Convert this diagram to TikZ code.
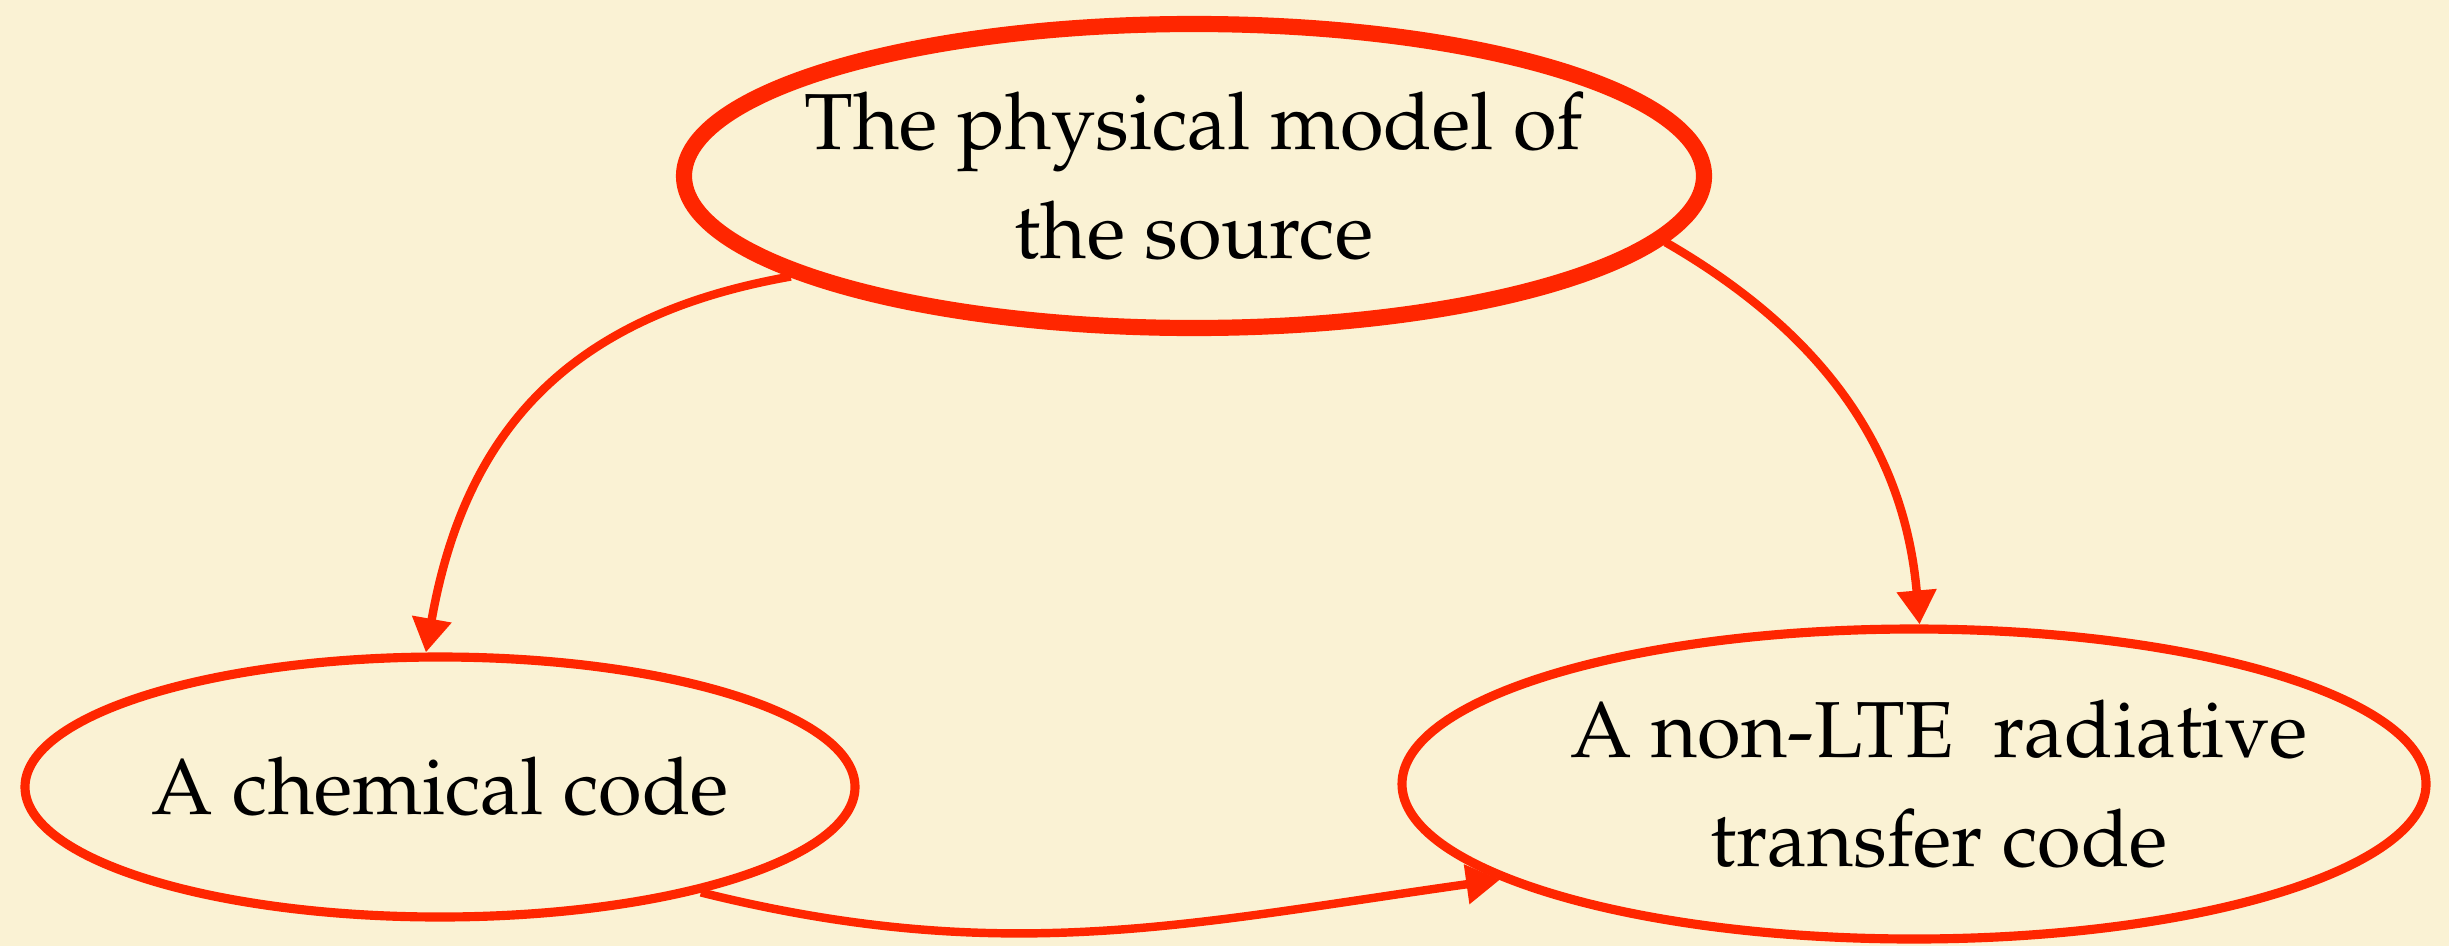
\documentclass[tikz,border=0pt]{standalone}
\usepackage[T1]{fontenc}
\usepackage{mathpazo}
\usetikzlibrary{shapes.geometric,arrows.meta}
\definecolor{Paper}{HTML}{FAF2D4}
\definecolor{Vermilion}{HTML}{FF2600}

\begin{document}
\begin{tikzpicture}
    \fill[Paper] (0,0) rectangle (24.49,9.46);
    \useasboundingbox (0,0) rectangle (24.49,9.46);
    \tikzset{
      bubble/.style={ellipse,draw=Vermilion,line width=2.6pt,inner ysep=0pt,inner xsep=-0.8cm,
        align=center,font=\fontsize{22.6}{31}\selectfont},
      link/.style={draw=Vermilion,line width=2.4pt,-{Triangle[length=0.34cm,width=0.38cm]}}
    }
    \node[bubble,line width=4.6pt,minimum width=10.2cm,minimum height=3.04cm] (model) at (11.94,7.70) {The physical model of\\the source};
    \node[bubble,minimum width=8.3cm,minimum height=2.6cm] (chem) at (4.40,1.59) {A chemical code};
    \node[bubble,minimum width=10.24cm,minimum height=3.1cm] (nlte) at (19.14,1.62) {\hspace*{0.5cm}A non-LTE\ \ radiative\\\hspace*{0.5cm}transfer code};
    \draw[link] (model.194) to[out=190,in=80,looseness=1.1] (chem.96);
    \draw[link] (model.352) to[out=-30,in=95] (nlte.88);
    \draw[link] (chem.338) to[out=-14,in=188] (nlte.193);
  \end{tikzpicture}
\end{document}
